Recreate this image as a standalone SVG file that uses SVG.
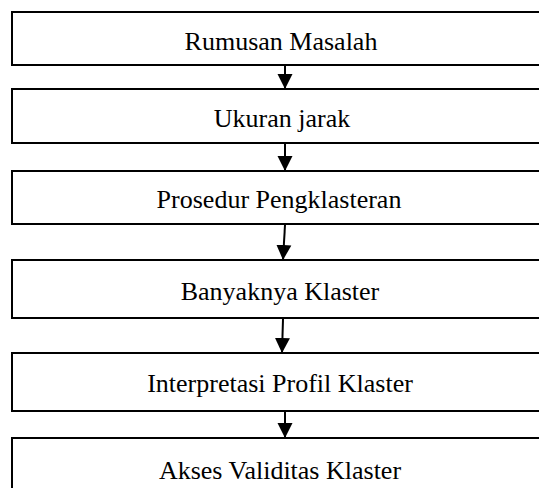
<svg xmlns="http://www.w3.org/2000/svg" width="539" height="488" viewBox="0 0 539 488">
<style>
.box{fill:#fff;stroke:#000;stroke-width:2}
.lbl{font-family:"Liberation Serif","Times New Roman",serif;font-size:26px;fill:#000;text-anchor:middle}
.conn{stroke:#000;stroke-width:2;fill:none;marker-end:url(#ah)}
</style>
<defs>
<marker id="ah" markerUnits="userSpaceOnUse" markerWidth="16" markerHeight="16" viewBox="0 0 16 16" refX="15" refY="8" orient="auto">
<path d="M0,0.5 L15,8 L0,15.5 Z" fill="#000"/>
</marker>
</defs>
<rect width="539" height="488" fill="#fff"/>
<g id="n1"><rect class="box" x="12" y="12" width="560" height="53"/><text class="lbl" x="281" y="50">Rumusan Masalah</text></g>
<g id="n2"><rect class="box" x="12" y="89" width="560" height="54"/><text class="lbl" x="282" y="127">Ukuran jarak</text></g>
<g id="n3"><rect class="box" x="12" y="171" width="560" height="53"/><text class="lbl" x="279" y="208">Prosedur Pengklasteran</text></g>
<g id="n4"><rect class="box" x="12" y="260" width="560" height="58"/><text class="lbl" x="280" y="300">Banyaknya Klaster</text></g>
<g id="n5"><rect class="box" x="12" y="353" width="560" height="58"/><text class="lbl" x="280" y="392">Interpretasi Profil Klaster</text></g>
<g id="n6"><rect class="box" x="12" y="438" width="560" height="70"/><text class="lbl" x="280" y="479">Akses Validitas Klaster</text></g>
<g id="connectors">
<line class="conn" x1="285" y1="66" x2="285" y2="89"/>
<line class="conn" x1="285" y1="144" x2="285" y2="171"/>
<line class="conn" x1="285" y1="225" x2="283" y2="260"/>
<line class="conn" x1="283" y1="319" x2="282" y2="353"/>
<line class="conn" x1="285" y1="412" x2="285" y2="438"/>
</g>
</svg>
